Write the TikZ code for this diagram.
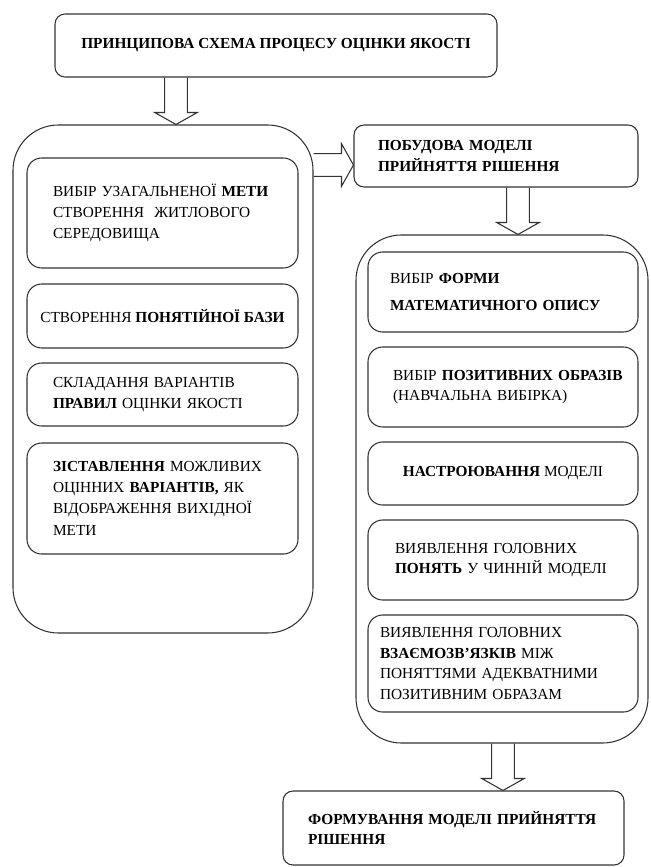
\documentclass[tikz,border=0pt]{standalone}
\usepackage{fontspec}
\setmainfont{Liberation Serif}
\usetikzlibrary{calc}

% hollow block arrow from #1 to #2
\newcommand\hollowarrow[2]{%
  \coordinate (hb) at ($(#2)!9pt!(#1)$);
  \draw[arrowline] ($(#1)!8.5pt!90:(#2)$) -- ($(hb)!8.5pt!90:(#2)$) -- ($(hb)!16pt!90:(#2)$) -- (#2)
    -- ($(hb)!16pt!-90:(#2)$) -- ($(hb)!8.5pt!-90:(#2)$) -- ($(#1)!8.5pt!-90:(#2)$);
}

\begin{document}
\begin{tikzpicture}[x=0.75pt,y=-0.75pt,
  box/.style={draw=black!80, line width=0.8pt, rounded corners=7.5pt, inner xsep=0pt,
    font=\fontsize{11.5}{15.5}\selectfont},
  inbox/.style={box, rounded corners=11pt, minimum width=#1},
  frame/.style={draw=black!80, line width=0.8pt, rounded corners=34pt},
  arrowline/.style={draw=black!80, line width=0.8pt, line join=miter}]

\useasboundingbox (0,0) rectangle (650,867);

\node[box, minimum width=331.5pt, minimum height=47.25pt] (top) at (276,45.5)
  {\textbf{ПРИНЦИПОВА СХЕМА ПРОЦЕСУ ОЦІНКИ ЯКОСТІ}};

% left column
\node[frame, minimum width=225pt, minimum height=381pt] (lcont) at (163,379) {};
\node[inbox=203.25pt, minimum height=82.5pt, text width=164.25pt, align=left] (l1) at (162.5,213)
  {ВИБІР УЗАГАЛЬНЕНОЇ \textbf{МЕТИ}\\ СТВОРЕННЯ~ ЖИТЛОВОГО\\ СЕРЕДОВИЩА};
\node[inbox=203.25pt, minimum height=48pt, align=center] (l2) at (162.5,316)
  {СТВОРЕННЯ \textbf{ПОНЯТІЙНОЇ БАЗИ}};
\node[inbox=203.25pt, minimum height=47.25pt, text width=164.25pt, align=left] (l3) at (162.5,394.5)
  {СКЛАДАННЯ ВАРІАНТІВ\\ \textbf{ПРАВИЛ} ОЦІНКИ ЯКОСТІ};
\node[inbox=203.25pt, minimum height=83.25pt, text width=164.25pt, align=left] (l4) at (162.5,498.5)
  {\textbf{ЗІСТАВЛЕННЯ} МОЖЛИВИХ\\ ОЦІННИХ \textbf{ВАРІАНТІВ,} ЯК\\ ВІДОБРАЖЕННЯ ВИХІДНОЇ\\[1pt] МЕТИ};

% right column
\node[box, minimum width=213pt, minimum height=46.5pt, text width=177pt, align=left] (mid) at (496,156)
  {\textbf{ПОБУДОВА МОДЕЛІ}\\ \textbf{ПРИЙНЯТТЯ РІШЕННЯ}};
\node[frame, minimum width=219pt, minimum height=381pt] (rcont) at (502,489) {};
\node[inbox=202.5pt, minimum height=60pt, text width=169.5pt, align=left] (r1) at (503,292)
  {ВИБІР \textbf{ФОРМИ}\\[5pt] \textbf{МАТЕМАТИЧНОГО ОПИСУ}};
\node[inbox=202.5pt, minimum height=60pt, text width=165pt, align=left] (r2) at (503,387)
  {ВИБІР~\textbf{ПОЗИТИВНИХ~ОБРАЗІВ}\\ (НАВЧАЛЬНА ВИБІРКА)};
\node[inbox=202.5pt, minimum height=47.25pt, align=center] (r3) at (503,473.5)
  {\textbf{НАСТРОЮВАННЯ} МОДЕЛІ};
\node[inbox=202.5pt, minimum height=60pt, text width=162pt, align=left] (r4) at (503,560)
  {ВИЯВЛЕННЯ ГОЛОВНИХ\\ \textbf{ПОНЯТЬ} У ЧИННІЙ МОДЕЛІ};
\node[inbox=202.5pt, minimum height=72.75pt, text width=184.5pt, align=left] (r5) at (503,663.5)
  {ВИЯВЛЕННЯ ГОЛОВНИХ\\ \textbf{ВЗАЄМОЗВ’ЯЗКІВ} МІЖ\\ ПОНЯТТЯМИ АДЕКВАТНИМИ\\ ПОЗИТИВНИМ ОБРАЗАМ};

\node[box, minimum width=255.75pt, minimum height=55.5pt, text width=218.25pt, align=left] (fin) at (453.5,828)
  {\textbf{ФОРМУВАННЯ МОДЕЛІ ПРИЙНЯТТЯ}\\ \textbf{РІШЕННЯ}};

% block arrows
\coordinate (a1s) at (176,0 |- top.south);
\coordinate (a1e) at (176,0 |- lcont.north);
\coordinate (a2s) at (lcont.east |- 0,165);
\coordinate (a2e) at (mid.west |- 0,165);
\coordinate (a3s) at (518,0 |- mid.south);
\coordinate (a3e) at (518,0 |- rcont.north);
\coordinate (a4s) at (503,0 |- rcont.south);
\coordinate (a4e) at (503,0 |- fin.north);
\hollowarrow{a1s}{a1e}
\hollowarrow{a2s}{a2e}
\hollowarrow{a3s}{a3e}
\hollowarrow{a4s}{a4e}

\end{tikzpicture}
\end{document}
